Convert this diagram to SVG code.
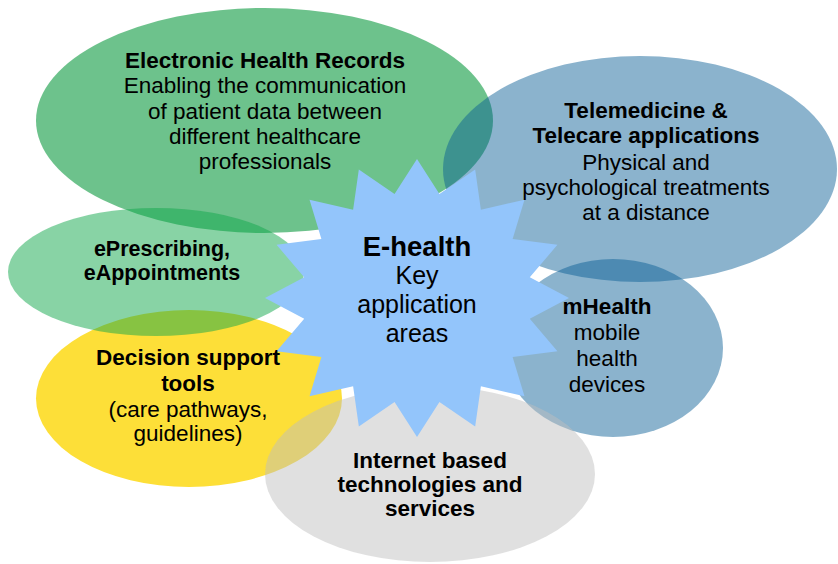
<svg xmlns="http://www.w3.org/2000/svg" width="838" height="564" viewBox="0 0 838 564">
<style>
text{font-family:"Liberation Sans",Arial,sans-serif;fill:#000;text-anchor:middle;font-size:22.5px}
.b{font-weight:bold}
.ehr{fill:#009436;fill-opacity:.573}
.blue{fill:#065c94;fill-opacity:.466}
.epr{fill:#11a74b;fill-opacity:.5}
.yel{fill:#fddf38}
.grey{fill:#bfbfbf;fill-opacity:.48}
.star{fill:#93c5fb}
</style>
<rect width="838" height="564" fill="#fff"/>
<g id="ehr">
<ellipse class="ehr" cx="264.5" cy="120.5" rx="228.5" ry="112.5"/>
</g>
<g id="telemedicine">
<ellipse class="blue" cx="640" cy="169" rx="197" ry="113"/>
</g>
<g id="mhealth">
<ellipse class="blue" cx="613" cy="348" rx="110" ry="89"/>
</g>
<g id="decision">
<ellipse class="yel" cx="189" cy="398.5" rx="153" ry="88.5"/>
</g>
<g id="eprescribing">
<ellipse class="epr" cx="156" cy="272" rx="148" ry="64"/>
</g>
<g id="internet">
<ellipse class="grey" cx="430" cy="474" rx="165" ry="88"/>
</g>
<g id="ehealth">
<polygon class="star" points="417,159 439.44,194.04 475.17,169.58 480.89,209.86 524.48,199.71 512.62,239.11 557.43,244.81 529.79,277.32 569,298 529.79,318.68 557.43,351.19 512.62,356.89 524.48,396.29 480.89,386.14 475.17,426.42 439.44,401.96 417,437 394.56,401.96 358.83,426.42 353.11,386.14 309.52,396.29 321.38,356.89 276.57,351.19 304.21,318.68 265,298 304.21,277.32 276.57,244.81 321.38,239.11 309.52,199.71 353.11,209.86 358.83,169.58 394.56,194.04"/>
</g>
<g id="connectors"></g>
<g id="labels">
<text x="265" y="68" class="b">Electronic Health Records</text>
<text x="265" y="93">Enabling the communication</text>
<text x="265" y="118.5">of patient data between</text>
<text x="265" y="143.5">different healthcare</text>
<text x="265" y="168.5">professionals</text>

<text x="646" y="118" class="b">Telemedicine &amp;</text>
<text x="646" y="143" class="b">Telecare applications</text>
<text x="646" y="169.5">Physical and</text>
<text x="646" y="195">psychological treatments</text>
<text x="646" y="220">at a distance</text>

<text x="417" y="256" class="b" style="font-size:27.5px">E-health</text>
<text x="417" y="284" style="font-size:25px">Key</text>
<text x="417" y="313" style="font-size:25px">application</text>
<text x="417" y="341.5" style="font-size:25px">areas</text>

<text x="162" y="256" class="b" style="font-size:21.5px">ePrescribing,</text>
<text x="162" y="279.5" class="b" style="font-size:21.5px">eAppointments</text>

<text x="188" y="365" class="b">Decision support</text>
<text x="188" y="391" class="b">tools</text>
<text x="188" y="417">(care pathways,</text>
<text x="188" y="440.5">guidelines)</text>

<text x="430" y="467.5" class="b">Internet based</text>
<text x="430" y="492" class="b">technologies and</text>
<text x="430" y="516" class="b">services</text>

<text x="607" y="314" class="b">mHealth</text>
<text x="607" y="340">mobile</text>
<text x="607" y="366">health</text>
<text x="607" y="392">devices</text>
</g>
</svg>
